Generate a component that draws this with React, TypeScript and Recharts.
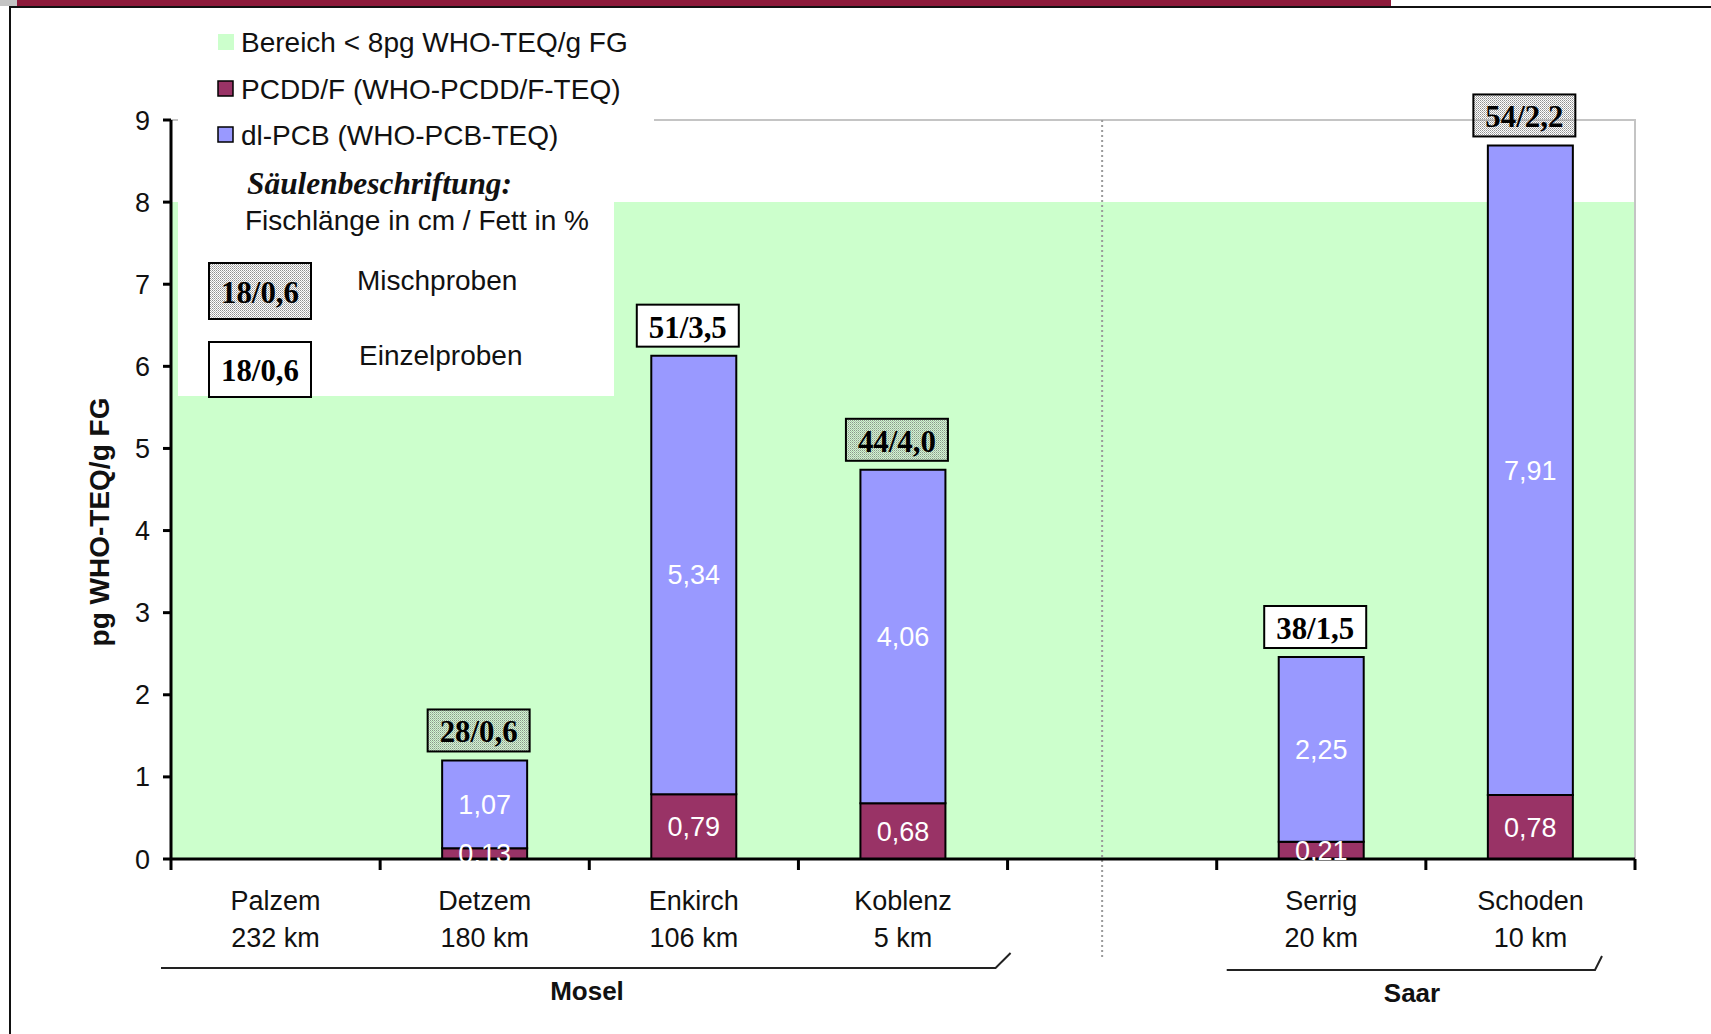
import React from "react";
import {
  BarChart,
  Bar,
  XAxis,
  YAxis,
  ReferenceArea,
  ReferenceLine,
  LabelList,
} from "recharts";

// ---------- data ----------
const CATEGORY_KEYS = ["Palzem", "Detzem", "Enkirch", "Koblenz", "gap", "Serrig", "Schoden"];
const SITE_NAMES = ["Palzem", "Detzem", "Enkirch", "Koblenz", "", "Serrig", "Schoden"];
const DISTANCES = ["232 km", "180 km", "106 km", "5 km", "", "20 km", "10 km"];
const PCDDF_VALUES = [null, 0.13, 0.79, 0.68, null, 0.21, 0.78];
const DLPCB_VALUES = [null, 1.07, 5.34, 4.06, null, 2.25, 7.91];
const SAMPLE_LABELS = [null, "28/0,6", "51/3,5", "44/4,0", null, "38/1,5", "54/2,2"];
const SAMPLE_KINDS = [null, "misch", "einzel", "misch", null, "einzel", "misch"];
const Y_TICKS = [0, 1, 2, 3, 4, 5, 6, 7, 8, 9];
const LIMIT_VALUE = 8;

const data = CATEGORY_KEYS.map((key, i) => ({
  key,
  pcdd: PCDDF_VALUES[i],
  pcb: DLPCB_VALUES[i],
  sample: SAMPLE_LABELS[i],
}));

// ---------- layout ----------
const W = 1711;
const H = 1034;
const PLOT_LEFT = 171;
const PLOT_RIGHT = 1635;
const PLOT_TOP = 120;
const PLOT_BOTTOM = 859;
const Y_AXIS_W = 80;
const X_AXIS_H = 110;
const BAND = (PLOT_RIGHT - PLOT_LEFT) / CATEGORY_KEYS.length;

const SANS = "'Liberation Sans', Arial, sans-serif";
const SERIF = "'Liberation Serif', 'Times New Roman', serif";

const COLOR_PCDD = "#993366";
const COLOR_PCB = "#9999FF";
const COLOR_GREEN = "#CCFFCC";

const fmt = (v: any) =>
  v === null || v === undefined ? "" : Number(v).toFixed(2).replace(".", ",");

const XTick = (props: any) => {
  const { x, y, payload } = props;
  const idx = CATEGORY_KEYS.indexOf(payload.value);
  const left = x - BAND / 2;
  const right = x + BAND / 2;
  return (
    <g>
      <line x1={left} y1={y} x2={left} y2={y + 11} stroke="#000" strokeWidth={3} />
      {idx === CATEGORY_KEYS.length - 1 && (
        <line x1={right} y1={y} x2={right} y2={y + 11} stroke="#000" strokeWidth={3} />
      )}
      <text
        x={x}
        y={y + 42}
        textAnchor="middle"
        dominantBaseline="central"
        fontFamily={SANS}
        fontSize={27}
        fill="#111"
      >
        {SITE_NAMES[idx]}
      </text>
      <text
        x={x}
        y={y + 79}
        textAnchor="middle"
        dominantBaseline="central"
        fontFamily={SANS}
        fontSize={27}
        fill="#111"
      >
        {DISTANCES[idx]}
      </text>
    </g>
  );
};

const BoxText = ({ x, y, value }: any) => (
  <text
    x={x}
    y={y}
    textAnchor="middle"
    dominantBaseline="central"
    fontFamily={SERIF}
    fontWeight="bold"
    fontSize={32}
    textLength={78}
    lengthAdjust="spacingAndGlyphs"
    fill="#000"
  >
    {value}
  </text>
);

const SampleBox = (props: any) => {
  const vb = props.viewBox || {};
  const x = props.x ?? vb.x;
  const y = props.y ?? vb.y;
  const w = props.width ?? vb.width;
  const h = props.height ?? vb.height ?? 0;
  const value = props.value;
  if (!value || x === undefined || y === undefined) return null;
  const idx = SAMPLE_LABELS.indexOf(value);
  const kind = SAMPLE_KINDS[idx];
  const top = Math.min(y, y + h);
  const cx = x + w / 2 - 6;
  const bw = 102;
  const bh = 42;
  const by = top - 9 - bh;
  return (
    <g>
      <rect
        x={cx - bw / 2}
        y={by}
        width={bw}
        height={bh}
        fill={kind === "misch" ? "url(#mischPattern)" : "#fff"}
        stroke="#000"
        strokeWidth={2}
      />
      <BoxText x={cx} y={by + bh / 2 + 1} value={value} />
    </g>
  );
};

const DottedShape = (p: any) => {
  const top = Math.min(p.y1, p.y2);
  const bottom = Math.max(p.y1, p.y2);
  return (
    <line
      x1={p.x1 - 10}
      x2={p.x2 - 10}
      y1={top}
      y2={bottom + 100}
      stroke="#9a9a9a"
      strokeWidth={2}
      strokeDasharray="2 3"
    />
  );
};

const Overlay = () => {
  const moselStart = PLOT_LEFT - 10;
  const moselEnd = PLOT_LEFT + 4 * BAND - 12;
  const saarStart = PLOT_LEFT + 5 * BAND + 10;
  const saarEnd = PLOT_RIGHT - 40;
  return (
    <svg
      width={W}
      height={H}
      style={{ position: "absolute", left: 0, top: 0, pointerEvents: "none" }}
    >
      <defs>
        <pattern id="mischPattern" width="2" height="2" patternUnits="userSpaceOnUse">
          <rect x="0" y="0" width="1" height="1" fill="#8f8f8f" />
          <rect x="1" y="1" width="1" height="1" fill="#b5b5b5" />
        </pattern>
      </defs>
      {/* frame */}
      <rect x={0} y={0} width={17} height={6} fill="#c4c4c4" />
      <rect x={17} y={0} width={1374} height={6} fill="#8c1a3a" />
      <line x1={9} y1={7} x2={W} y2={7} stroke="#111" strokeWidth={2} />
      <line x1={10} y1={7} x2={10} y2={H} stroke="#111" strokeWidth={2} />

      {/* legend background */}
      <rect x={178} y={20} width={476} height={120} fill="#fff" />
      <rect x={178} y={120} width={436} height={276} fill="#fff" />

      {/* legend items */}
      <rect x={218} y={34} width={16} height={16} fill={COLOR_GREEN} />
      <text x={241} y={42} dominantBaseline="central" fontFamily={SANS} fontSize={28} fill="#111">
        Bereich &lt; 8pg WHO-TEQ/g FG
      </text>
      <rect x={218} y={81} width={15} height={15} fill={COLOR_PCDD} stroke="#000" strokeWidth={1.5} />
      <text x={241} y={89} dominantBaseline="central" fontFamily={SANS} fontSize={28} fill="#111">
        PCDD/F (WHO-PCDD/F-TEQ)
      </text>
      <rect x={218} y={127} width={15} height={15} fill={COLOR_PCB} stroke="#000" strokeWidth={1.5} />
      <text x={241} y={135} dominantBaseline="central" fontFamily={SANS} fontSize={28} fill="#111">
        dl-PCB (WHO-PCB-TEQ)
      </text>
      <text
        x={247}
        y={183}
        dominantBaseline="central"
        fontFamily={SERIF}
        fontStyle="italic"
        fontWeight="bold"
        fontSize={31}
        textLength={265}
        lengthAdjust="spacingAndGlyphs"
        fill="#111"
      >
        Säulenbeschriftung:
      </text>
      <text x={245} y={220} dominantBaseline="central" fontFamily={SANS} fontSize={28} fill="#111">
        Fischlänge in cm / Fett in %
      </text>
      <rect x={209} y={263} width={102} height={56} fill="url(#mischPattern)" stroke="#000" strokeWidth={2} />
      <BoxText x={260} y={292} value="18/0,6" />
      <text x={357} y={280} dominantBaseline="central" fontFamily={SANS} fontSize={28} fill="#111">
        Mischproben
      </text>
      <rect x={209} y={342} width={102} height={55} fill="#fff" stroke="#000" strokeWidth={2} />
      <BoxText x={260} y={370} value="18/0,6" />
      <text x={359} y={355} dominantBaseline="central" fontFamily={SANS} fontSize={28} fill="#111">
        Einzelproben
      </text>

      {/* y axis title */}
      <text
        x={99}
        y={522}
        transform="rotate(-90 99 522)"
        textAnchor="middle"
        dominantBaseline="central"
        fontFamily={SANS}
        fontWeight="bold"
        fontSize={28}
        fill="#111"
      >
        pg WHO-TEQ/g FG
      </text>

      {/* group brackets */}
      <polyline
        points={`${moselStart},968 ${moselEnd},968 ${moselEnd + 15},953`}
        fill="none"
        stroke="#222"
        strokeWidth={2}
      />
      <text
        x={587}
        y={991}
        textAnchor="middle"
        dominantBaseline="central"
        fontFamily={SANS}
        fontWeight="bold"
        fontSize={26}
        fill="#111"
      >
        Mosel
      </text>
      <polyline
        points={`${saarStart},970 ${saarEnd},970 ${saarEnd + 7},956`}
        fill="none"
        stroke="#222"
        strokeWidth={2}
      />
      <text
        x={1412}
        y={993}
        textAnchor="middle"
        dominantBaseline="central"
        fontFamily={SANS}
        fontWeight="bold"
        fontSize={26}
        fill="#111"
      >
        Saar
      </text>
    </svg>
  );
};

export default function App() {
  return (
    <div style={{ position: "absolute", left: 0, top: 0, width: W, height: H, background: "#fff" }}>
      <BarChart
        width={W}
        height={H}
        data={data}
        margin={{
          top: PLOT_TOP,
          right: W - PLOT_RIGHT,
          bottom: H - PLOT_BOTTOM - X_AXIS_H,
          left: PLOT_LEFT - Y_AXIS_W,
        }}
        barSize={85}
      >
        <ReferenceArea y1={0} y2={LIMIT_VALUE} fill={COLOR_GREEN} fillOpacity={1} stroke="none" />
        <ReferenceArea y1={0} y2={9} fill="none" fillOpacity={0} stroke="#c4c4c4" strokeWidth={2} />
        <ReferenceLine x="gap" stroke="#9a9a9a" shape={DottedShape} />
        <XAxis
          dataKey="key"
          interval={0}
          tickLine={false}
          tickSize={0}
          tickMargin={0}
          height={X_AXIS_H}
          axisLine={{ stroke: "#000", strokeWidth: 3 }}
          tick={<XTick />}
        />
        <YAxis
          domain={[0, 9]}
          ticks={Y_TICKS}
          interval={0}
          width={Y_AXIS_W}
          tickSize={8}
          tickMargin={13}
          axisLine={{ stroke: "#000", strokeWidth: 3 }}
          tickLine={{ stroke: "#000", strokeWidth: 3 }}
          tick={{ fontFamily: SANS, fontSize: 27, fill: "#111" }}
        />
        <Bar dataKey="pcdd" stackId="a" fill={COLOR_PCDD} stroke="#000" strokeWidth={2} isAnimationActive={false}>
          <LabelList
            dataKey="pcdd"
            position="center"
            formatter={fmt}
            fill="#fff"
            fontFamily={SANS}
            fontSize={27}
          />
        </Bar>
        <Bar dataKey="pcb" stackId="a" fill={COLOR_PCB} stroke="#000" strokeWidth={2} isAnimationActive={false}>
          <LabelList
            dataKey="pcb"
            position="center"
            formatter={fmt}
            fill="#fff"
            fontFamily={SANS}
            fontSize={27}
          />
          <LabelList dataKey="sample" content={<SampleBox />} />
        </Bar>
      </BarChart>
      <Overlay />
    </div>
  );
}
